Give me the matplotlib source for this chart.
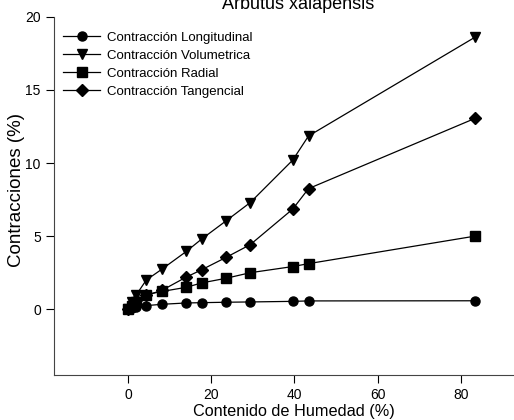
import numpy as np
import matplotlib
matplotlib.use('Agg')
import matplotlib.pyplot as plt

plt.rcParams['font.family'] = ['Liberation Sans', 'DejaVu Sans']

# humedad (%) and contracciones (%)
humedad = [0, 0.9, 1.9, 4.4, 8.2, 14.0, 17.7, 23.6, 29.4, 39.6, 43.4, 83.4]
longitudinal = [0, 0.08, 0.15, 0.25, 0.34, 0.43, 0.45, 0.48, 0.50, 0.54, 0.57, 0.58]
volumetrica = [0, 0.5, 0.95, 2.0, 2.75, 3.95, 4.8, 6.05, 7.3, 10.2, 11.85, 18.6]
radial = [0, 0.25, 0.5, 1.0, 1.22, 1.5, 1.8, 2.12, 2.5, 2.92, 3.12, 5.0]
tangencial = [0, 0.3, 0.6, 0.95, 1.3, 2.2, 2.7, 3.55, 4.42, 6.85, 8.25, 13.05]

xticks = [0, 20, 40, 60, 80]
yticks = [0, 5, 10, 15, 20]

fig = plt.figure(figsize=(5.14, 4.2), dpi=100)
ax = fig.add_axes([0.105, 0.107, 0.895, 0.853])

ax.plot(humedad, longitudinal, 'k-', marker='o', ms=6.5, lw=0.9, label='Contracción Longitudinal')
ax.plot(humedad, volumetrica, 'k-', marker='v', ms=7.5, lw=0.9, label='Contracción Volumetrica')
ax.plot(humedad, radial, 'k-', marker='s', ms=6.5, lw=0.9, label='Contracción Radial')
ax.plot(humedad, tangencial, 'k-', marker='D', ms=6, lw=0.9, label='Contracción Tangencial')

ax.set_xlim(-17.8, 92.8)
ax.set_ylim(-4.5, 20)
ax.set_xticks(xticks)
ax.set_yticks(yticks)
ax.tick_params(direction='out', length=6, width=0.8, labelsize=10)
ax.spines['top'].set_visible(False)
ax.spines['right'].set_visible(False)
ax.spines['left'].set_color('#444444')
ax.spines['bottom'].set_color('#444444')

ax.set_xlabel('Contenido de Humedad (%)', fontsize=11.7)
ax.set_ylabel('Contracciones (%)', fontsize=13.5)
ax.xaxis.set_label_coords(0.522, -0.08)
ax.yaxis.set_label_coords(-0.063, 0.517)

# title is partly outside the figure, as in the original
fig.text(0.58, 0.979, 'Arbutus xalapensis', fontsize=13, ha='center', va='baseline')

ax.legend(loc='upper left', bbox_to_anchor=(0.0, 0.984), frameon=False, fontsize=9.5,
          handlelength=2.8, handletextpad=0.5, labelspacing=0.43, borderaxespad=0.3)

plt.savefig('out.png', dpi=100)
